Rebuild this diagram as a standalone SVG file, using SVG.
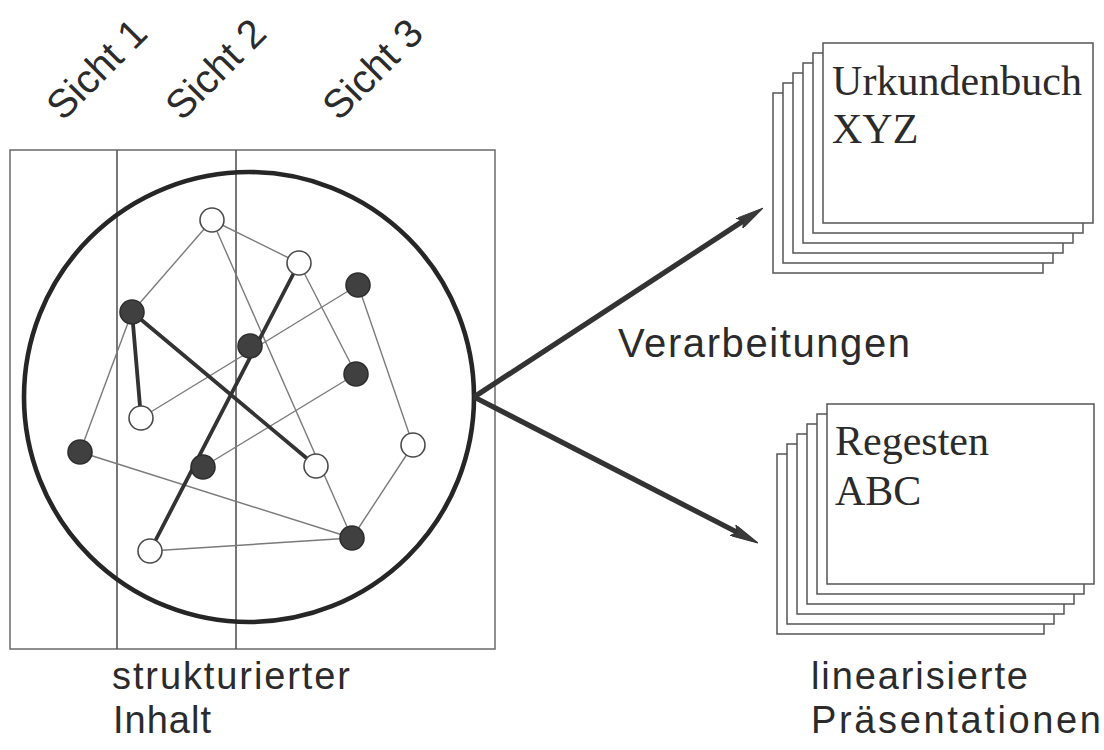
<svg xmlns="http://www.w3.org/2000/svg" width="1104" height="750" viewBox="0 0 1104 750">
  <defs>
    <style>
      .frame { fill: none; stroke: #6a6a6a; stroke-width: 1.5; }
      .divider { stroke: #555; stroke-width: 1.6; }
      .ring { fill: none; stroke: #262626; stroke-width: 4.6; }
      .thin { stroke: #7a7a7a; stroke-width: 1.4; fill: none; }
      .thick { stroke: #333; stroke-width: 3.8; fill: none; stroke-linecap: round; }
      .open { fill: #fff; stroke: #4a4a4a; stroke-width: 1.6; }
      .full { fill: #404040; stroke: #2e2e2e; stroke-width: 1.6; }
      .flow { stroke: #333; stroke-width: 5.2; fill: none; }
      .page { fill: #fff; stroke: #555; stroke-width: 1.5; }
      .sans { font-family: "Liberation Sans", Arial, sans-serif; fill: #2b2b2b; }
      .serif { font-family: "Liberation Serif", "Times New Roman", serif; fill: #2b2b2b; font-size: 42px; }
    </style>
    <marker id="head" viewBox="0 0 28 12" refX="9" refY="6" markerWidth="28" markerHeight="12" markerUnits="userSpaceOnUse" orient="auto">
      <path d="M0,0 L28,6 L0,12 L5,6 z" fill="#3a3a3a" stroke="#333" stroke-width="1"/>
    </marker>
  </defs>
  <rect width="1104" height="750" fill="#fff"/>

  <!-- view labels -->
  <g id="view-labels" class="sans" font-size="40">
    <text transform="translate(63,122) rotate(-45)">Sicht 1</text>
    <text transform="translate(182,122) rotate(-45)">Sicht 2</text>
    <text transform="translate(339,122) rotate(-45)">Sicht 3</text>
  </g>

  <!-- content frame split into views -->
  <g id="frame">
    <rect class="frame" x="10" y="150" width="485" height="499"/>
    <line class="divider" x1="117" y1="150" x2="117" y2="649"/>
    <line class="divider" x1="236" y1="150" x2="236" y2="649"/>
  </g>

  <g id="content-circle">
    <circle class="ring" cx="249" cy="397" r="225"/>
  </g>

  <!-- graph edges -->
  <g id="edges">
    <line class="thin" x1="212" y1="220" x2="132" y2="312"/>
    <line class="thin" x1="212" y1="220" x2="299" y2="263"/>
    <line class="thin" x1="212" y1="220" x2="352" y2="538"/>
    <line class="thin" x1="299" y1="263" x2="356" y2="374"/>
    <line class="thin" x1="358" y1="285" x2="141" y2="418"/>
    <line class="thin" x1="358" y1="285" x2="413" y2="445"/>
    <line class="thin" x1="356" y1="374" x2="203" y2="467"/>
    <line class="thin" x1="132" y1="312" x2="80" y2="452"/>
    <line class="thin" x1="80" y1="452" x2="352" y2="538"/>
    <line class="thin" x1="413" y1="445" x2="352" y2="538"/>
    <line class="thin" x1="150" y1="551" x2="352" y2="538"/>
    <line class="thick" x1="299" y1="263" x2="150" y2="551"/>
    <line class="thick" x1="132" y1="312" x2="141" y2="418"/>
    <line class="thick" x1="132" y1="312" x2="316" y2="466"/>
  </g>

  <!-- graph nodes -->
  <g id="node-1"><circle class="open" cx="212" cy="220" r="12"/></g>
  <g id="node-2"><circle class="open" cx="299" cy="263" r="12"/></g>
  <g id="node-3"><circle class="full" cx="358" cy="285" r="12"/></g>
  <g id="node-4"><circle class="full" cx="132" cy="312" r="12"/></g>
  <g id="node-5"><circle class="full" cx="250" cy="346" r="12"/></g>
  <g id="node-6"><circle class="full" cx="356" cy="374" r="12"/></g>
  <g id="node-7"><circle class="open" cx="141" cy="418" r="12"/></g>
  <g id="node-8"><circle class="open" cx="413" cy="445" r="12"/></g>
  <g id="node-9"><circle class="full" cx="80" cy="452" r="12"/></g>
  <g id="node-10"><circle class="full" cx="203" cy="467" r="12"/></g>
  <g id="node-11"><circle class="open" cx="316" cy="466" r="12"/></g>
  <g id="node-12"><circle class="full" cx="352" cy="538" r="12"/></g>
  <g id="node-13"><circle class="open" cx="150" cy="551" r="12"/></g>

  <!-- processing arrows -->
  <g id="flows">
    <line class="flow" x1="474" y1="397" x2="747" y2="218.5" marker-end="url(#head)"/>
    <line class="flow" x1="474" y1="397" x2="741" y2="534.3" marker-end="url(#head)"/>
  </g>

  <g id="flow-label">
    <text class="sans" x="618" y="357" font-size="40" textLength="292">Verarbeitungen</text>
  </g>

  <!-- stacked output documents -->
  <g id="stack-urkundenbuch">
    <rect class="page" x="773" y="93" width="270" height="180"/>
    <rect class="page" x="783" y="83" width="270" height="180"/>
    <rect class="page" x="793" y="73" width="270" height="180"/>
    <rect class="page" x="803" y="63" width="270" height="180"/>
    <rect class="page" x="813" y="53" width="270" height="180"/>
    <rect class="page" x="823" y="43" width="270" height="180"/>
    <text class="serif" x="832" y="95" textLength="250">Urkundenbuch</text>
    <text class="serif" x="832" y="143">XYZ</text>
  </g>

  <g id="stack-regesten">
    <rect class="page" x="777" y="454" width="267" height="180"/>
    <rect class="page" x="787" y="444" width="267" height="180"/>
    <rect class="page" x="797" y="434" width="267" height="180"/>
    <rect class="page" x="807" y="424" width="267" height="180"/>
    <rect class="page" x="817" y="414" width="267" height="180"/>
    <rect class="page" x="827" y="404" width="267" height="180"/>
    <text class="serif" x="835" y="455" textLength="154">Regesten</text>
    <text class="serif" x="835" y="505">ABC</text>
  </g>

  <!-- captions -->
  <g id="caption-left" class="sans" font-size="38">
    <text x="112" y="689" textLength="238">strukturierter</text>
    <text x="113" y="733" textLength="98">Inhalt</text>
  </g>
  <g id="caption-right" class="sans" font-size="38">
    <text x="811" y="689" textLength="217">linearisierte</text>
    <text x="811" y="733" textLength="290">Präsentationen</text>
  </g>
</svg>
